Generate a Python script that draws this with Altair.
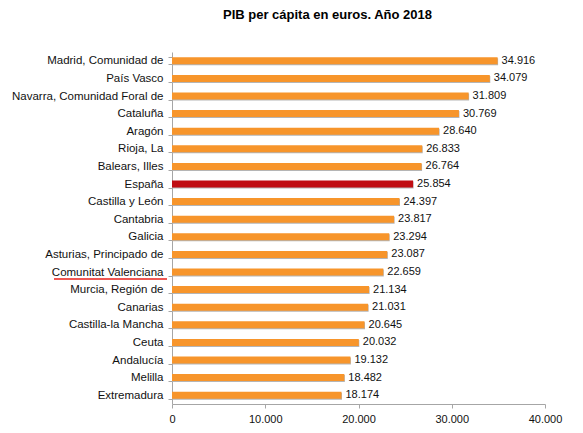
import altair as alt
import pandas as pd

# Datos: PIB per cápita por comunidad autónoma (euros), 2018
regiones = [
    "Madrid, Comunidad de\u00a0", "País Vasco", "Navarra, Comunidad Foral de\u00a0",
    "Cataluña", "Aragón", "Rioja, La\u00a0", "Balears, Illes", "España",
    "Castilla y León", "Cantabria", "Galicia", "Asturias, Principado de\u00a0",
    "Comunitat Valenciana", "Murcia, Región de\u00a0", "Canarias\u00a0",
    "Castilla-la Mancha", "Ceuta", "Andalucía\u00a0", "Melilla", "Extremadura",
]
pib = [
    34916, 34079, 31809, 30769, 28640, 26833, 26764, 25854, 24397, 23817,
    23294, 23087, 22659, 21134, 21031, 20645, 20032, 19132, 18482, 18174,
]
destacado = "España"
subrayado = "Comunitat Valenciana"

df = pd.DataFrame({"region": regiones, "pib": pib})
df["tipo"] = ["esp" if r == destacado else "ccaa" for r in regiones]

FONT = "Liberation Sans"
fmt_es = "replace(format({v}, ','), ',', '.')"

y_enc = alt.Y(
    "region:N",
    sort=regiones,
    title=None,
    scale=alt.Scale(paddingInner=0.6, paddingOuter=0.3),
    axis=alt.Axis(
        tickBand="extent", tickSize=4, labelPadding=5, labelFontSize=11.5,
        labelFont=FONT, labelColor="#111111", domainColor="#a6a6a6",
        tickColor="#a6a6a6", grid=False, labelLimit=300,
    ),
)
x_enc = alt.X(
    "pib:Q",
    title=None,
    scale=alt.Scale(domain=[0, 40000]),
    axis=alt.Axis(
        values=[0, 10000, 20000, 30000, 40000], tickSize=4, labelFontSize=11,
        labelFont=FONT, labelColor="#111111", domainColor="#a6a6a6",
        tickColor="#a6a6a6", grid=False, labelPadding=5, labelFlush=False,
        labelExpr=fmt_es.format(v="datum.value"),
    ),
)

base = alt.Chart(df)

sombra = base.mark_bar(color="#b5b5b5", yOffset=1, xOffset=0.5).encode(x=x_enc, y=y_enc)

barras = base.mark_bar().encode(
    x=x_enc,
    y=y_enc,
    color=alt.Color(
        "tipo:N",
        scale=alt.Scale(domain=["ccaa", "esp"], range=["#f7952b", "#c00d12"]),
        legend=None,
    ),
)

etiquetas = base.transform_calculate(
    txt=fmt_es.format(v="datum.pib")
).mark_text(align="left", baseline="middle", dx=4, fontSize=11, font=FONT, color="#111111").encode(
    x="pib:Q", y=alt.Y("region:N", sort=regiones), text="txt:N"
)

linea = alt.Chart(df[df["region"] == subrayado]).mark_rule(
    color="#e8201b", strokeWidth=1.5, yOffset=7
).encode(
    y=alt.Y("region:N", sort=regiones),
    x=alt.value(-118),
    x2=alt.value(-5),
)

chart = (
    alt.layer(sombra, barras, etiquetas, linea)
    .properties(
        width=373,
        height=352,
        autosize=alt.AutoSizeParams(type="none"),
        padding={"left": 164, "top": 44, "right": 30, "bottom": 20},
        title=alt.TitleParams(
            "PIB per cápita en euros. Año 2018", font=FONT, fontSize=13,
            fontWeight="bold", color="#000000", anchor="middle", dx=-31, offset=24,
        ),
    )
    .configure_view(strokeWidth=0)
)

chart.save("out.html", embed_options={"renderer": "svg", "actions": False})
